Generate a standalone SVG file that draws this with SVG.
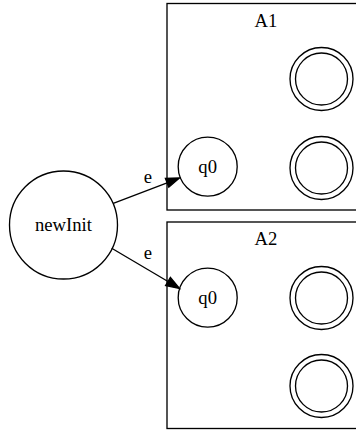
<svg xmlns="http://www.w3.org/2000/svg" width="356" height="430" viewBox="0 0 356 430">
<style>
text{font-family:'Liberation Serif','Times New Roman',serif;font-size:18.67px;fill:#000;text-anchor:middle}
.n{fill:none;stroke:#000;stroke-width:1.33}
.c{fill:none;stroke:#000;stroke-width:1.33}
.e{fill:none;stroke:#000;stroke-width:1.33}
.ah{fill:#000;stroke:#000;stroke-width:1.33}
</style>
<rect width="356" height="430" fill="#fff"/>
<g id="cluster_A1">
<rect class="c" x="167" y="3.5" width="200" height="206.5"/>
<text x="266" y="27">A1</text>
</g>
<g id="cluster_A2">
<rect class="c" x="167" y="222" width="200" height="206.5"/>
<text x="266" y="245">A2</text>
</g>
<g id="newInit">
<circle class="n" cx="63.5" cy="225" r="54"/>
<text x="63.5" y="231">newInit</text>
</g>
<g id="A1_q0">
<circle class="n" cx="207.7" cy="166.7" r="29.5"/>
<text x="207.7" y="173">q0</text>
</g>
<g id="A1_f1">
<circle class="n" cx="321.5" cy="79" r="31.5"/>
<circle class="n" cx="321.5" cy="79" r="26"/>
</g>
<g id="A1_f2">
<circle class="n" cx="321.5" cy="168" r="31.5"/>
<circle class="n" cx="321.5" cy="168" r="26"/>
</g>
<g id="A2_q0">
<circle class="n" cx="207.7" cy="297.7" r="29.5"/>
<text x="207.7" y="304">q0</text>
</g>
<g id="A2_f1">
<circle class="n" cx="321.5" cy="298" r="31.5"/>
<circle class="n" cx="321.5" cy="298" r="26"/>
</g>
<g id="A2_f2">
<circle class="n" cx="321.5" cy="386" r="31.5"/>
<circle class="n" cx="321.5" cy="386" r="26"/>
</g>
<g id="edges">
<path class="e" d="M113.3,203.3 L167.1,182.8"/>
<polygon class="ah" points="179.5,178 165.4,178.4 168.8,187.2"/>
<text x="148" y="183">e</text>
<path class="e" d="M111.7,248.3 L168,281.5"/>
<polygon class="ah" points="179.5,288.5 170.4,277.5 165.6,285.6"/>
<text x="148" y="259">e</text>
</g>
</svg>
